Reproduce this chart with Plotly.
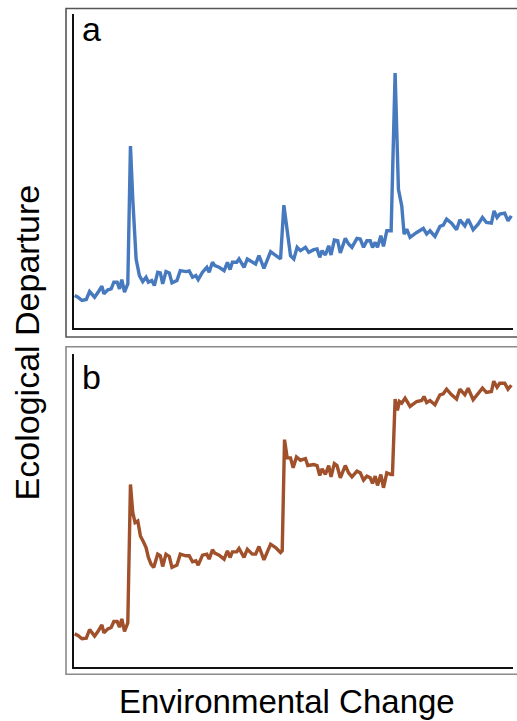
import plotly.graph_objects as go

# Environmental change (x) positions, panel a
env_change = [0.2, 1.2, 2.4, 3.7, 4.7, 6.2, 7.4, 8.4, 9.0, 10.2, 11.2, 12.0, 13.0, 13.7, 14.4, 15.2, 16.2,
              17.0, 17.7, 18.7, 19.7, 20.7, 21.7, 22.4, 23.4, 24.2, 25.2, 26.0, 26.7, 27.7, 28.7, 29.5,
              31.0, 32.0, 33.7, 34.7, 35.7, 36.7, 37.4, 38.7, 40.0, 40.7, 41.7, 42.4, 43.7, 45.2, 46.2,
              47.0, 47.7, 49.0, 49.7, 51.2, 52.2, 53.7, 54.7, 55.7, 57.2, 59.2, 60.7, 62.2, 63.2, 64.2,
              65.2, 66.2, 67.2, 68.2, 69.7, 70.7, 72.2, 73.2, 74.0, 74.7, 75.7, 76.7, 77.4, 78.4, 79.4,
              80.2, 81.7, 82.7, 83.7, 85.2, 86.2, 87.2, 88.2, 89.2, 89.9, 90.7, 91.4, 92.4, 93.2, 94.2,
              95.5, 96.7, 97.7, 98.7, 99.4, 100.2, 101.2, 103.2, 105.2, 106.2, 107.2, 108.7, 110.2, 111.2,
              112.2, 113.7, 115.2, 116.2, 117.7, 118.7, 120.2, 121.7, 123.0, 124.2, 125.7, 126.5, 127.4,
              128.2, 129.7, 130.7, 131.7]

# Panel a: transient departures (spikes)
departure_a = [9.8, 9.3, 8.3, 8.6, 11.0, 9.3, 11.0, 12.6, 10.3, 11.5, 11.8, 13.8, 13.8, 11.8, 14.6, 10.8, 13.3,
               54.8, 38.8, 20.8, 15.8, 14.0, 15.3, 13.8, 14.3, 12.8, 16.8, 16.6, 13.3, 17.0, 16.6, 13.6,
               14.3, 17.3, 17.0, 17.2, 15.3, 15.8, 14.6, 16.8, 18.3, 16.8, 19.8, 18.8, 18.3, 17.3, 19.8,
               17.6, 19.8, 19.8, 20.8, 18.3, 20.8, 19.8, 19.3, 21.8, 18.0, 23.0, 21.8, 20.8, 37.0, 28.8,
               21.8, 20.8, 24.3, 23.3, 24.3, 22.8, 23.6, 23.8, 21.3, 23.3, 22.0, 24.8, 22.0, 26.5, 26.3,
               22.6, 27.0, 25.3, 24.3, 27.0, 26.8, 24.3, 26.3, 26.3, 24.3, 25.8, 24.3, 27.8, 24.6, 29.3,
               29.3, 76.8, 41.8, 36.8, 28.3, 29.8, 27.3, 28.8, 30.0, 28.3, 29.3, 27.6, 30.6, 31.0,
               32.8, 31.6, 29.6, 32.6, 30.8, 32.8, 29.6, 31.3, 33.3, 31.8, 31.6, 35.3, 33.3,
               34.3, 34.6, 32.3, 33.8]

# Environmental change (x) positions, panel b
env_change_b = [0.2, 1.2, 2.4, 3.7, 4.7, 6.2, 7.4, 8.4, 9.0, 10.2, 11.2, 12.0, 13.0, 13.7, 14.4, 15.2, 16.2,
                17.0, 17.7, 18.4, 19.2, 20.0, 21.0, 21.7, 22.4, 23.2, 24.0, 25.2, 26.0, 26.7, 27.7, 28.7, 29.5,
                31.0, 32.0, 33.7, 34.7, 35.7, 36.7, 37.4, 38.7, 40.0, 40.7, 41.7, 42.4, 43.7, 45.2, 46.2,
                47.0, 47.7, 49.0, 49.7, 51.2, 52.2, 53.7, 54.7, 55.7, 57.2, 59.2, 60.7, 62.2, 62.7, 63.4,
                64.2, 65.2, 66.0, 67.0, 68.2, 69.7, 70.4, 72.2, 73.2, 74.0, 74.7, 75.7, 76.7, 77.4, 78.4,
                79.2, 80.2, 81.7, 82.7, 83.7, 85.2, 86.2, 87.2, 88.2, 89.2, 89.9, 90.7, 91.4, 92.4, 93.2,
                94.2, 95.5, 95.9, 96.7, 97.4, 98.0, 98.7, 99.7, 100.2, 101.2, 103.2, 104.7, 105.4, 106.2,
                107.2, 108.7, 110.2, 111.2, 112.2, 113.7, 115.2, 116.2, 117.7, 118.7, 120.2, 121.7, 123.0, 124.2,
                125.7, 126.4, 127.4, 128.2, 129.7, 130.7, 131.7]

# Panel b: persistent shifts (steps)
departure_b = [10.0, 9.5, 8.5, 8.7, 11.3, 9.3, 11.0, 12.7, 10.3, 11.5, 11.9, 13.7, 13.7, 12.0, 14.5, 10.7, 13.3,
               55.0, 46.5, 43.5, 44.0, 39.5, 37.5, 36.0, 33.0, 31.0, 30.0, 34.0, 33.5, 30.3, 34.0, 33.3, 30.0,
               30.7, 34.0, 33.5, 33.5, 31.7, 32.0, 30.7, 33.7, 34.0, 32.5, 35.3, 34.3, 33.7, 32.5, 35.0,
               33.0, 34.7, 34.7, 35.7, 33.0, 35.5, 34.0, 34.0, 36.3, 32.3, 37.0, 36.0, 34.5, 35.0, 68.5,
               63.0, 63.0, 60.0, 63.3, 62.3, 62.8, 60.7, 61.0, 60.7, 57.7, 59.7, 58.0, 60.7, 57.3, 61.3,
               60.7, 57.0, 60.7, 58.5, 57.3, 59.0, 58.5, 56.3, 57.5, 57.0, 55.3, 57.5, 54.7, 58.0, 54.0,
               58.5, 58.0, 58.0, 80.7, 77.3, 80.0, 79.5, 81.0, 80.0, 78.5, 80.0, 80.3, 81.5, 79.7,
               80.3, 79.0, 82.0, 82.3, 83.7, 82.0, 80.7, 83.7, 82.0, 84.0, 80.5, 82.3, 84.0, 82.7,
               83.0, 86.1, 84.3, 85.5, 85.5, 83.7, 84.9]

panel_labels = ["a", "b"]
x_title = "Environmental Change"
y_title = "Ecological Departure"

FONT = "Liberation Sans, Arial, sans-serif"
BLUE = "#4679BE"
BROWN = "#A0502A"

fig = go.Figure()
fig.add_trace(go.Scatter(x=env_change, y=departure_a, mode="lines",
                         line=dict(color=BLUE, width=3.4), xaxis="x", yaxis="y", showlegend=False))
fig.add_trace(go.Scatter(x=env_change_b, y=departure_b, mode="lines",
                         line=dict(color=BROWN, width=3.4), xaxis="x2", yaxis="y2", showlegend=False))

axis_common = dict(showgrid=False, zeroline=False, showticklabels=False, ticks="",
                   showline=True, linecolor="#111111", linewidth=2.2, mirror=False, fixedrange=True)

fig.update_layout(
    width=517, height=721,
    margin=dict(l=74, r=4, t=14, b=54),
    paper_bgcolor="white", plot_bgcolor="white",
    font=dict(family=FONT, color="black"),
    xaxis=dict(domain=[0, 1], range=[0, 132.2], anchor="y", **axis_common),
    yaxis=dict(domain=[0.5191, 1], range=[0, 94.6], anchor="x", **axis_common),
    xaxis2=dict(domain=[0, 1], range=[0, 132.2], anchor="y2", **axis_common),
    yaxis2=dict(domain=[0, 0.4793], range=[0, 94.3], anchor="x2", **axis_common),
    shapes=[
        dict(type="rect", xref="paper", yref="paper", x0=-0.0182, x1=1.0205, y0=0.5054, y1=1.0084,
             line=dict(color="#555555", width=1.6), layer="below"),
        dict(type="rect", xref="paper", yref="paper", x0=-0.0182, x1=1.0205, y0=-0.0112, y1=0.4905,
             line=dict(color="#8a8a8a", width=1.6), layer="below"),
    ],
    annotations=[
        dict(text=panel_labels[0], xref="paper", yref="paper", x=0.014, y=0.9773,
             xanchor="left", yanchor="middle", showarrow=False, font=dict(size=34, family=FONT)),
        dict(text=panel_labels[1], xref="paper", yref="paper", x=0.014, y=0.4435,
             xanchor="left", yanchor="middle", showarrow=False, font=dict(size=34, family=FONT)),
        dict(text=x_title, xref="paper", yref="paper", x=0.4852, y=-0.0521,
             xanchor="center", yanchor="middle", showarrow=False, font=dict(size=33, family=FONT)),
        dict(text=y_title, xref="paper", yref="paper", x=-0.1062, y=0.4977, textangle=-90,
             xanchor="center", yanchor="middle", showarrow=False, font=dict(size=34, family=FONT)),
    ],
)

fig.write_html("out.html", config={"displayModeBar": False},
               post_script="document.body.style.margin='0';document.body.style.overflow='hidden';")
